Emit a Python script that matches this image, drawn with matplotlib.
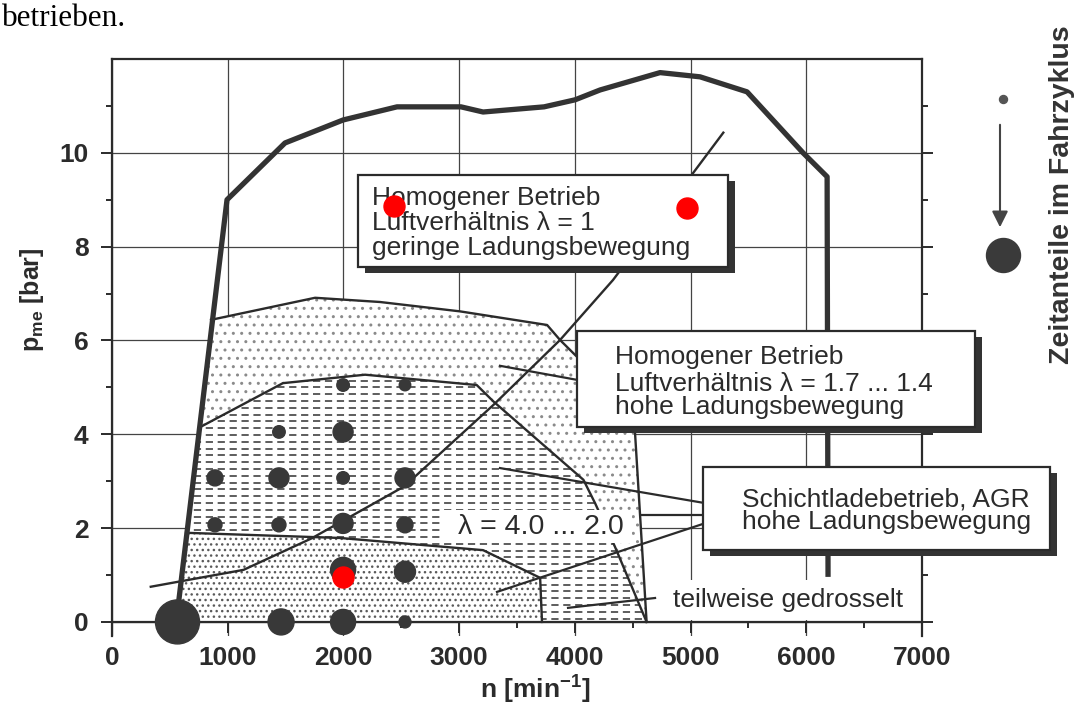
import numpy as np
import matplotlib
matplotlib.use("Agg")
import matplotlib.pyplot as plt
from matplotlib.patches import Polygon, Rectangle, FancyArrowPatch

plt.rcParams['font.family'] = ['Liberation Sans', 'DejaVu Sans']
plt.rcParams['mathtext.default'] = 'regular'

# Volllastlinie
vl_n = [560, 994, 1495, 1997, 2463, 3016, 3207, 3734, 4002, 4218, 4736, 5082, 5488, 5972, 6180, 6188]
vl_p = [0.1, 9.0, 10.21, 10.70, 10.98, 10.98, 10.87, 10.98, 11.13, 11.34, 11.71, 11.62, 11.30, 10.0, 9.49, 0.96]

# Grenze homogen lambda 1.7 ... 1.4
hom_n = [856, 1755, 2316, 3008, 3760, 3872, 4019, 4520, 4620]
hom_p = [6.44, 6.91, 6.82, 6.62, 6.33, 6.01, 5.65, 4.03, 0.0]

# Grenze Schichtladebetrieb (oben / rechts)
sch_n = [767, 1477, 2187, 3152, 3296, 4074, 4175, 4347, 4620]
sch_p = [4.16, 5.09, 5.27, 5.05, 4.70, 3.03, 2.53, 1.60, 0.0]

# untere Grenze Schichtladebetrieb
low_n = [640, 1970, 3207, 3700, 3716]
low_p = [1.90, 1.79, 1.53, 0.94, 0.0]

# Fahrwiderstandslinie
fw_n = [335, 1137, 1724, 2526, 3298, 3872, 4330, 5010, 5283]
fw_p = [0.75, 1.11, 1.78, 2.89, 4.63, 6.01, 7.29, 9.53, 10.43]

# Betriebspunkte, Durchmesser in px ~ Zeitanteil
pt_n = [566, 1461, 1997, 2532, 1997, 2532, 890, 1443, 1997, 2532, 890, 1443, 1997, 2532, 1443, 1997, 1997, 2532]
pt_p = [0.0, 0.0, 0.0, 0.0, 1.11, 1.07, 2.07, 2.07, 2.10, 2.07, 3.07, 3.07, 3.07, 3.07, 4.05, 4.05, 5.05, 5.05]
pt_d = [44, 26, 25, 12, 25, 21, 14, 14, 20, 16, 16, 20, 12.5, 20, 12.5, 20, 12.5, 11.5]

# rote Markierungen
red_n = [2440, 4967, 1996]
red_p = [8.86, 8.82, 0.95]

xticks = [0, 1000, 2000, 3000, 4000, 5000, 6000, 7000]
yticks = [0, 2, 4, 6, 8, 10]

ink = '#2b2b2b'

fig = plt.figure(figsize=(10.85, 7.12), dpi=100)
ax = fig.add_axes([112 / 1085, 1 - 636 / 712, 810 / 1085, 577 / 712])
ax.set_xlim(0, 7000)
ax.set_ylim(-0.3, 12)
ax.set_axisbelow(True)

ax.set_xticks(xticks)
ax.set_xticks(np.arange(500, 7000, 1000), minor=True)
ax.set_yticks(yticks)
ax.set_yticks([1, 3, 5, 7, 9, 11], minor=True)
ax.grid(True, which='major', color='#444', lw=0.9)
ax.spines['bottom'].set_position(('data', 0))
for s in ax.spines.values():
    s.set_color(ink)
    s.set_linewidth(1.6)
ax.tick_params(which='both', direction='out', color=ink, width=1.4, right=True)
ax.tick_params(which='major', length=8, labelsize=19, labelcolor=ink, pad=9)
ax.tick_params(which='minor', length=4.5)
for lab in ax.get_xticklabels() + ax.get_yticklabels():
    lab.set_fontweight('bold')

# Flaechen
full_left = [(vl_n[0], 0.0), (vl_n[0], vl_p[0])]
poly_L = full_left + [(856, 6.44)] + list(zip(hom_n, hom_p))
pL = Polygon(poly_L, closed=True, facecolor='white', edgecolor='#8a8a8a', lw=0,
             hatch='..', zorder=1.1)
ax.add_patch(pL)

poly_low = full_left + [(640, 1.90)] + list(zip(low_n, low_p))
pLow = Polygon(poly_low, closed=True, facecolor='white', edgecolor='#5a5a5a', lw=0,
               hatch='...', zorder=1.2)
ax.add_patch(pLow)

poly_D = list(zip(sch_n, sch_p)) + list(zip(low_n[::-1], low_p[::-1]))
pD = Polygon(poly_D, closed=True, facecolor='white', edgecolor='none', zorder=1.3)
ax.add_patch(pD)
rows = np.arange(0.07, 5.4, 0.145)
hl = ax.hlines(rows, 500, 4700, colors='#505050', linestyles=(0, (4.0, 2.6)), lw=1.3, zorder=1.4)
hl.set_clip_path(pD)

# Linien
line_kw = dict(color=ink, lw=1.7, zorder=3, solid_joinstyle='round')
ax.plot(hom_n, hom_p, **line_kw)
ax.plot(sch_n, sch_p, **line_kw)
ax.plot(low_n, low_p, **line_kw)
ax.plot(fw_n, fw_p, **line_kw)
ax.plot(vl_n, vl_p, color='#333', lw=3.8, zorder=3.2, solid_joinstyle='round', solid_capstyle='butt')

# Betriebspunkte
ax.scatter(pt_n, pt_p, s=[(d * 0.72) ** 2 for d in pt_d], color='#383838', zorder=4, clip_on=False)

# Hinweislinien
pointers = [((3353, 5.46), (4019, 5.16)),
            ((3353, 3.28), (5108, 2.54)),
            ((4581, 2.28), (5108, 2.28)),
            ((3327, 0.64), (5108, 2.09)),
            ((3941, 0.30), (4693, 0.51))]
for a, b in pointers:
    ax.plot([a[0], b[0]], [a[1], b[1]], color=ink, lw=1.6, zorder=3.5)


def box(x0, x1, y0, y1):
    sh = Rectangle((x0 + 60, y0 - 0.13), x1 - x0, y1 - y0, facecolor='#333', edgecolor='none',
                   zorder=5, clip_on=False)
    ax.add_patch(sh)
    ax.add_patch(Rectangle((x0, y0), x1 - x0, y1 - y0, facecolor='white', edgecolor=ink,
                           lw=1.6, zorder=5.1, clip_on=False))


box(2126, 5324, 7.57, 9.53)
box(4019, 7459, 4.16, 6.20)
box(5108, 8107, 1.54, 3.30)

tkw = dict(fontsize=19, color=ink, va='center', ha='left', zorder=6, clip_on=False)
ax.text(2247, 9.04, 'Homogener Betrieb', **tkw)
ax.text(2247, 8.51, 'Luftverhältnis λ = 1', **tkw)
ax.text(2247, 7.97, 'geringe Ladungsbewegung', **tkw)
ax.text(4347, 5.65, 'Homogener Betrieb', **tkw)
ax.text(4347, 5.07, 'Luftverhältnis λ = 1.7 ... 1.4', **tkw)
ax.text(4347, 4.58, 'hohe Ladungsbewegung', **tkw)
ax.text(5445, 2.62, 'Schichtladebetrieb, AGR', **tkw)
ax.text(5445, 2.13, 'hohe Ladungsbewegung', **tkw)

ax.add_patch(Rectangle((2850, 1.68), 1640, 0.70, facecolor='white', edgecolor='none', zorder=4.5))
ax.text(3708, 2.03, 'λ = 4.0 ... 2.0', fontsize=20.5, color=ink, ha='center', va='center', zorder=6)
ax.add_patch(Rectangle((4736, 0.05), 2200, 0.85, facecolor='white', edgecolor='none', zorder=4.5))
ax.text(4849, 0.47, 'teilweise gedrosselt', **tkw)

# rote Punkte
ax.scatter(red_n, red_p, s=(21 * 0.72) ** 2, color='#ff0000', zorder=7)

# Achsenbeschriftung
fig.text(535 / 1085, 1 - 690 / 712, 'n [min$^{-1}$]', fontsize=19, fontweight='bold', color=ink,
         ha='center', va='center')
fig.text(32 / 1085, 1 - 300 / 712, 'p$_{me}$ [bar]', fontsize=18, fontweight='bold', color=ink,
         ha='center', va='center', rotation=90)

# Seitentext und Legende rechts
fig.text(2 / 1085, 1 - 26 / 712, 'betrieben.', family='Liberation Serif', fontsize=22.5,
         color='black', ha='left', va='baseline')
ax.scatter([1003 / 1085], [1 - 99 / 712], s=(8 * 0.72) ** 2, color='#555', transform=fig.transFigure,
           clip_on=False)
ax.scatter([1003 / 1085], [1 - 255 / 712], s=(34 * 0.72) ** 2, color='#3a3a3a',
           transform=fig.transFigure, clip_on=False)
fig.add_artist(FancyArrowPatch((1000 / 1085, 1 - 122 / 712), (1000 / 1085, 1 - 230 / 712),
                               transform=fig.transFigure, arrowstyle='-|>', mutation_scale=24,
                               lw=1.5, color='#444'))
fig.text(1062 / 1085, 1 - 195 / 712, 'Zeitanteile im Fahrzyklus', fontsize=20.5, fontweight='bold',
         color='#333', rotation=90, ha='center', va='center')

fig.savefig('out.png', dpi=100)
